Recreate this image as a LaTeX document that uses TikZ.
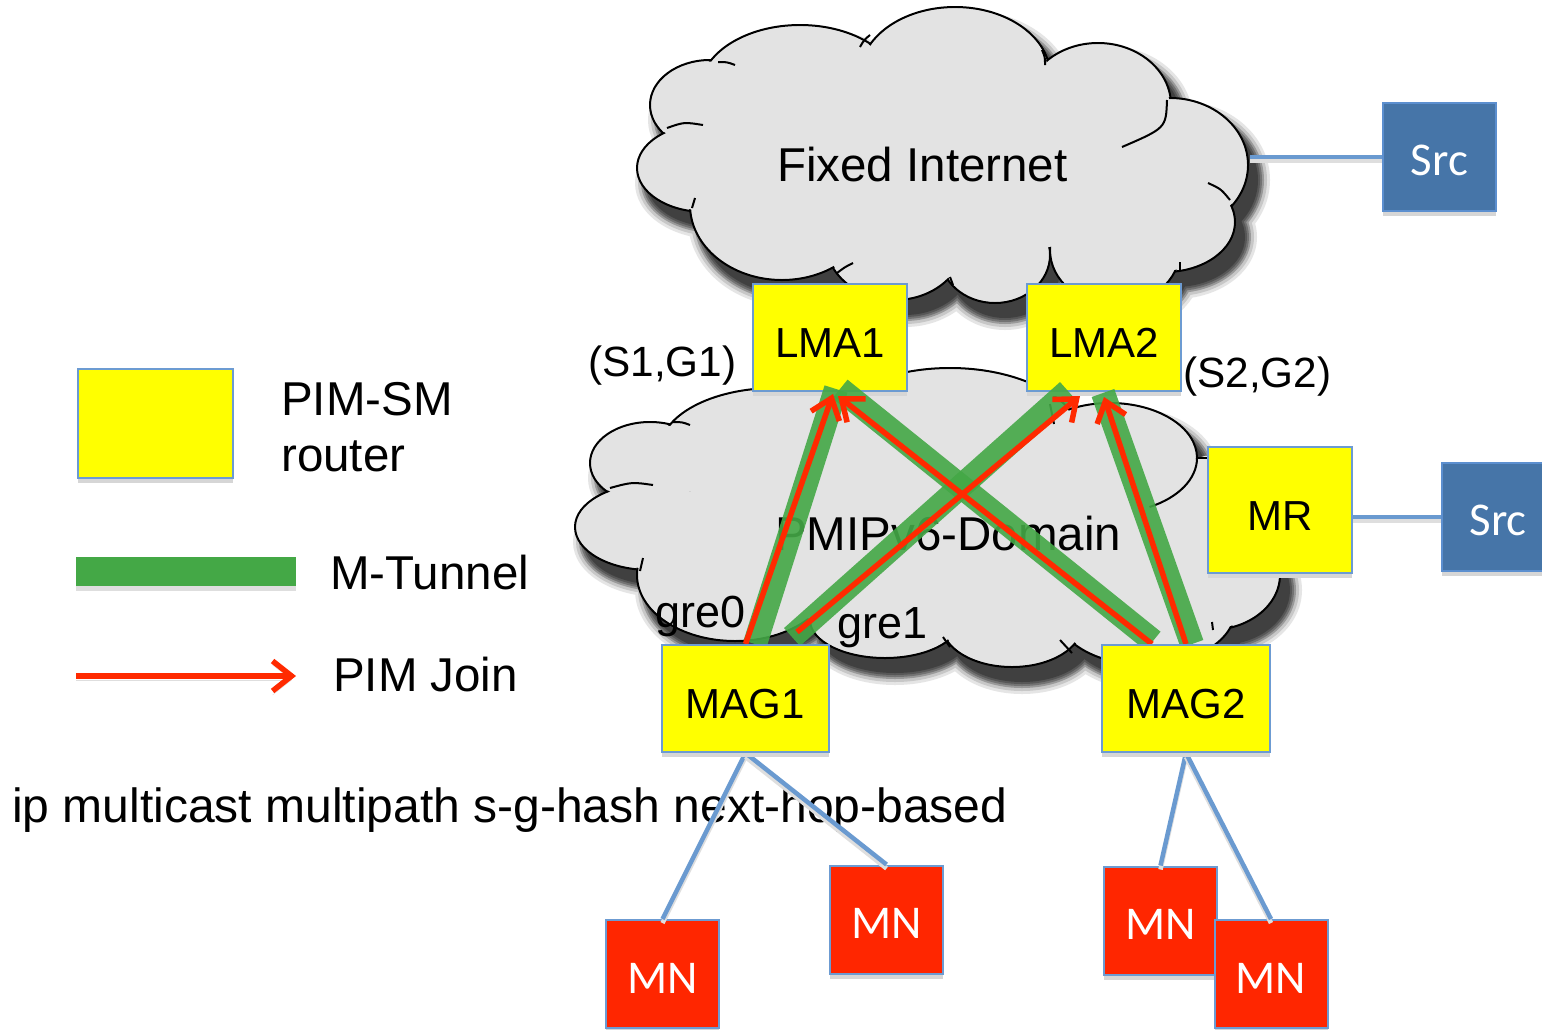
\documentclass[tikz,border=0pt]{standalone}
\usepackage{fontspec}
\setmainfont{Liberation Sans}
\newfontfamily\calibrilike{Carlito}
\usetikzlibrary{arrows.meta,shadows}

\definecolor{routeryellow}{HTML}{FFFF00}
\definecolor{boxedge}{HTML}{6C9BD2}
\definecolor{srcblue}{HTML}{4675A8}
\definecolor{srcedge}{HTML}{5C8FCF}
\definecolor{mnred}{HTML}{FF2600}
\definecolor{cloudgray}{HTML}{E3E3E3}
\definecolor{linkblue}{HTML}{6A9AD0}
\definecolor{joinred}{HTML}{FF2A00}
\definecolor{tunnelgreen}{HTML}{44A846}

% A cloud built from overlapping bumps.
% #1: stroked bumps cx/cy/rx/ry, #2: fill-only interior ellipses cx/cy/rx/ry
\newcommand\cloudbody[2]{%
  \begin{scope}[shift={(10,15)}]
    \foreach \gr/\sh in {12/10, 9/22, 6/40, 4/55, 2/66, 0/75}{
      \foreach \cx/\cy/\rx/\ry in {#1,#2}{
        \pgfmathsetmacro\ax{\rx+\gr}\pgfmathsetmacro\ay{\ry+\gr}
        \fill[black!\sh] (\cx,\cy) ellipse[x radius=\ax, y radius=\ay];
      }
    }
  \end{scope}
  \foreach \cx/\cy/\rx/\ry in {#1}
    \filldraw[fill=cloudgray, cloudline] (\cx,\cy) ellipse[x radius=\rx, y radius=\ry];
  \foreach \cx/\cy/\rx/\ry in {#1}{
    \pgfmathsetmacro\ax{\rx-1.7}\pgfmathsetmacro\ay{\ry-1.7}
    \fill[cloudgray] (\cx,\cy) ellipse[x radius=\ax, y radius=\ay];
  }
  \foreach \cx/\cy/\rx/\ry in {#2}
    \fill[cloudgray] (\cx,\cy) ellipse[x radius=\rx, y radius=\ry];
}

\begin{document}
\begin{tikzpicture}[x=1pt, y=-1pt,
  cloudline/.style={draw=black, line width=2},
  boxbase/.style={rectangle, line width=2, inner sep=0,
    drop shadow={shadow xshift=0pt, shadow yshift=-5pt, fill=black!16, opacity=1}},
  routerbox/.style={boxbase, draw=boxedge, fill=routeryellow, text height=40pt,
    font=\fontsize{42}{50}\selectfont},
  srcbox/.style={boxbase, draw=srcedge, fill=srcblue, text=white, text height=38pt,
    minimum width=113, minimum height=108, font=\calibrilike\fontsize{47}{56}\selectfont},
  mnbox/.style={boxbase, draw=boxedge, fill=mnred, text=white, text height=38pt,
    minimum width=113, minimum height=108, font=\calibrilike\fontsize{47}{56}\selectfont},
  lbl/.style={inner sep=0, anchor=base west, font=\fontsize{47.5}{57}\selectfont},
  sglbl/.style={lbl, font=\fontsize{42.3}{50}\selectfont},
  grelbl/.style={lbl, font=\fontsize{45}{54}\selectfont},
  bluelink/.style={draw=linkblue, line width=4.5,
    preaction={draw=black!13, line width=4.5, transform canvas={yshift=-4pt}}},
  mtunnel/.style={draw=tunnelgreen, line width=24, opacity=0.9},
  pimjoin/.style={draw=joinred, line width=5.5, -{Straight Barb[length=19pt, width=30pt]}},
]
\useasboundingbox (0,0) rectangle (1542,1029);
\fill[white] (0,0) rectangle (1542,1029);

% ---------- Fixed Internet cloud ----------
\cloudbody{710/105/60/45, 705/168/68/44, 800/90/100/65, 955/75/95/68, 1098/105/73/62,
  1170/165/78/67, 1165/222/70/50, 1115/250/65/55, 995/255/55/48, 895/240/70/60, 782/205/92/75}
  {945/170/245/85}
\draw[cloudline] (667,128) .. controls (684,122) .. (703,125);
\draw[cloudline] (718,62) .. controls (727,62) .. (735,65);
\draw[cloudline] (870,35) .. controls (864,40) .. (860,47);
\draw[cloudline] (1042,50) .. controls (1045,57) .. (1045,65);
\draw[cloudline] (1167,100) .. controls (1166,128) .. (1122,147);
\draw[cloudline] (1208,183) .. controls (1221,189) .. (1230,200);
\draw[cloudline] (1180,262) -- (1180,270);
\draw[cloudline] (853,263) .. controls (845,267) .. (837,273);
\draw[cloudline] (950,277) -- (953,285);
\draw[cloudline] (692,208) -- (695,198);

% ---------- PMIPv6 domain cloud ----------
\cloudbody{650/463/60/41, 650/527/75/43, 735/575/98/66, 775/450/115/62, 950/445/135/77,
  1110/458/87/55, 1210/575/70/55, 1145/610/90/55, 1012/625/70/42, 885/620/75/38}
  {930/530/260/100, 1215/515/55/60}
\draw[cloudline] (610,488) .. controls (632,482) .. (653,485);
\draw[cloudline] (672,422) .. controls (682,422) .. (690,425);
\draw[cloudline] (1197,458) arc[start angle=0, end angle=63, x radius=87, y radius=55];
\draw[cloudline] (1197,458) -- (1208,458);
\draw[cloudline] (1050,404) -- (1054,424);
\draw[cloudline] (643,558) -- (640,571);
\draw[cloudline] (943,637) -- (950,647);
\draw[cloudline] (1060,640) -- (1072,653);
\draw[cloudline] (1212,622) -- (1213,630);

% ---------- texts ----------
\node[lbl] (fixedtxt) at (777,181) {Fixed Internet};
\node[lbl] (pmiptxt) at (775,550) {PMIPv6-Domain};
\node[sglbl] (sg1) at (588,376) {(S1,G1)};
\node[sglbl] (sg2) at (1183,387) {(S2,G2)};
\node[grelbl] (gre0) at (655,627) {gre0};
\node[grelbl] (gre1) at (837,638) {gre1};
\node[lbl, font=\fontsize{48}{57}\selectfont] (cmdtxt) at (12,822) {ip multicast multipath s-g-hash next-hop-based};

% ---------- legend ----------
\node[routerbox, minimum width=155, minimum height=109] (legbox) at (155.5,423.5) {};
\node[lbl] (legpim) at (281,415) {PIM-SM};
\node[lbl] (legrouter) at (281,471) {router};
\coordinate (bara) at (76,571.5);
\coordinate (barb) at (296,571.5);
\draw[draw=tunnelgreen, line width=29,
  preaction={draw=black!13, line width=29, transform canvas={yshift=-5pt}}] (bara) -- (barb);
\node[lbl] (legtun) at (330,589) {M-Tunnel};
\coordinate (arra) at (76,676);
\coordinate (arrb) at (296,676);
\draw[pimjoin, preaction={draw=black!13, transform canvas={yshift=-4pt}}] (arra) -- (arrb);
\node[lbl] (legjoin) at (333,691) {PIM Join};

% ---------- routers and sources ----------
\node[routerbox, minimum width=154, minimum height=107] (lma1) at (830,337.5) {LMA1};
\node[routerbox, minimum width=154, minimum height=107] (lma2) at (1104,337.5) {LMA2};
\node[routerbox, minimum width=144, minimum height=126] (mr) at (1280,510) {MR};
\node[srcbox] (src1) at (1439.5,157) {Src};
\node[srcbox] (src2) at (1498,517) {Src};

\coordinate (fiedge) at (1250,157);
\draw[bluelink] (fiedge) -- (src1.west);
\draw[bluelink] (src2.west -| mr.east) -- (src2.west);

\node[routerbox, minimum width=167, minimum height=107] (mag1) at (745.5,698.5) {};
\node[routerbox, minimum width=168, minimum height=107] (mag2) at (1186,698.5) {};

% access links to mobile nodes
\node[mnbox] (mn2) at (886.5,919.5) {MN};
\node[mnbox] (mn3) at (1160.5,920.5) {MN};
\node[mnbox] (mn1) at (662.5,974) {MN};
\node[mnbox] (mn4) at (1271,974) {MN};
\draw[bluelink] (mag1.south) -- (mn1.north);
\draw[bluelink] (mag1.south) -- (mn2.north);
\draw[bluelink] (mag2.south) -- (mn3.north);
\draw[bluelink] (mag2.south) -- (mn4.north);

% ---------- multicast tunnels ----------
\draw[mtunnel] ([xshift=9.5pt]mag1.north) -- ([xshift=6pt,yshift=3pt]lma1.south);
\draw[mtunnel] ([xshift=46.5pt,yshift=7pt]mag1.north) -- ([xshift=-36pt,yshift=1pt]lma2.south);
\draw[mtunnel] ([xshift=-33pt,yshift=3pt]mag2.north) -- ([xshift=10pt,yshift=3pt]lma1.south);
\draw[mtunnel] ([xshift=6pt]mag2.north) -- ([xshift=-1pt,yshift=-1pt]lma2.south);

% ---------- PIM joins ----------
\draw[pimjoin] (mag1.north) -- ([xshift=3pt,yshift=-2pt]lma1.south);
\draw[pimjoin] ([xshift=51.5pt,yshift=12pt]mag1.north) -- ([xshift=-24pt,yshift=-4pt]lma2.south);
\draw[pimjoin] ([xshift=-34pt]mag2.north) -- ([xshift=8pt,yshift=-4pt]lma1.south);
\draw[pimjoin] (mag2.north) -- ([yshift=-5pt]lma2.south);

% access gateways on top of the tunnel ends
\node[routerbox, minimum width=167, minimum height=107] (mag1b) at (mag1) {MAG1};
\node[routerbox, minimum width=168, minimum height=107] (mag2b) at (mag2) {MAG2};
\end{tikzpicture}
\end{document}
